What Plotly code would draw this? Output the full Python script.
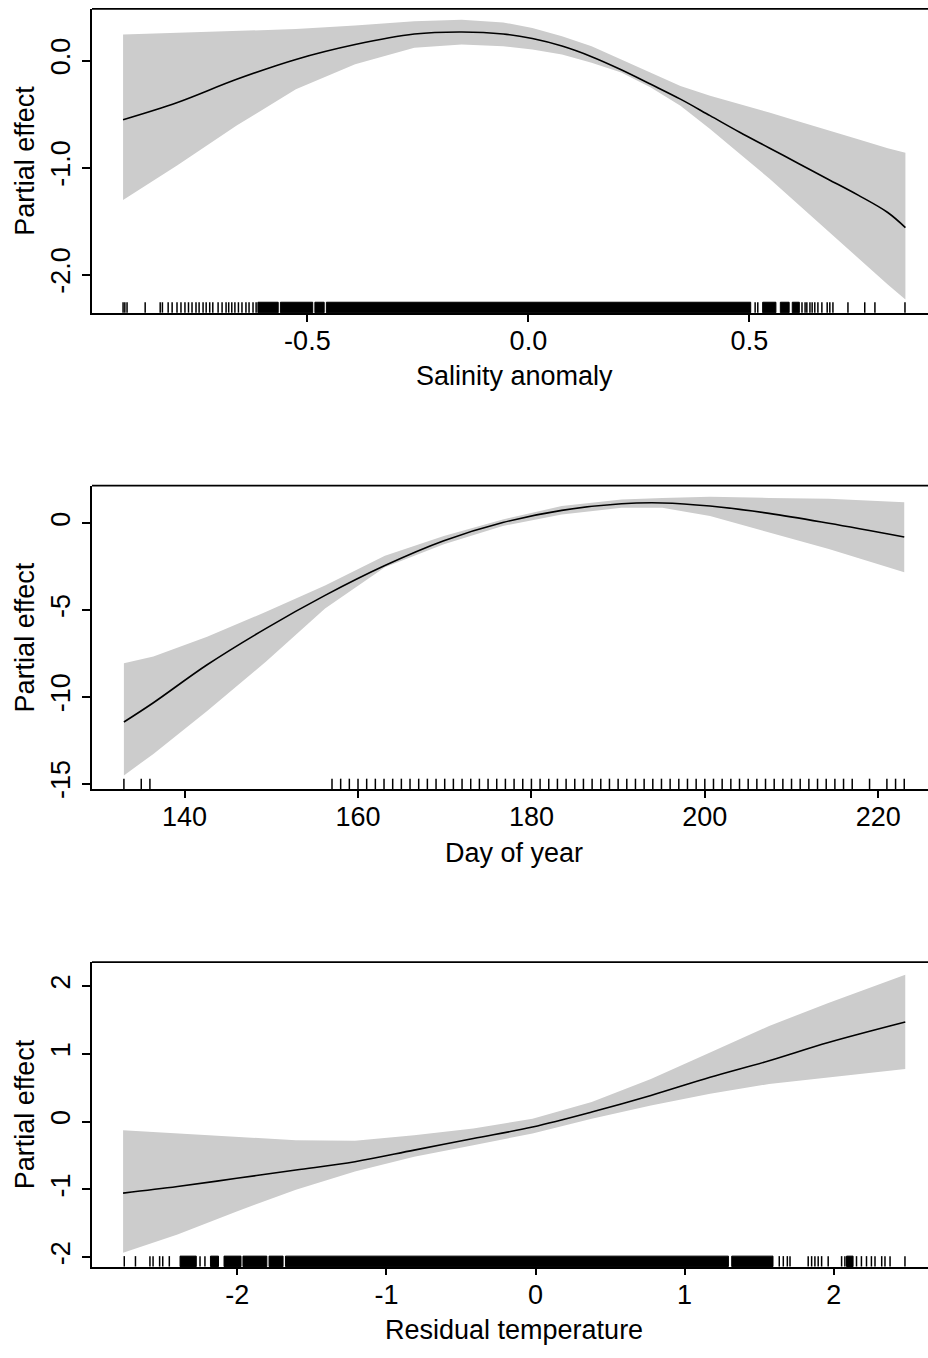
import plotly.graph_objects as go

# ---------------- data ----------------
# Panel 1: Salinity anomaly
sal_x = [-0.917, -0.794, -0.660, -0.526, -0.392, -0.258, -0.151, -0.057, 0.009, 0.076, 0.143,
         0.210, 0.277, 0.344, 0.411, 0.478, 0.545, 0.612, 0.679, 0.746, 0.813, 0.853]
sal_fit = [-0.553, -0.392, -0.176, 0.010, 0.149, 0.248, 0.267, 0.248, 0.205, 0.135, 0.036,
           -0.086, -0.222, -0.361, -0.515, -0.670, -0.817, -0.964, -1.111, -1.258, -1.420, -1.561]
sal_upper = [0.242, 0.258, 0.273, 0.294, 0.328, 0.366, 0.381, 0.356, 0.304, 0.226, 0.134,
             0.010, -0.113, -0.237, -0.330, -0.405, -0.485, -0.570, -0.650, -0.735, -0.820, -0.862]
sal_lower = [-1.304, -0.979, -0.608, -0.268, -0.036, 0.119, 0.149, 0.134, 0.103, 0.056, -0.021,
             -0.113, -0.253, -0.423, -0.639, -0.870, -1.103, -1.350, -1.598, -1.845, -2.093, -2.232]
sal_rug = [-0.917, -0.913, -0.908, -0.867, -0.833, -0.828, -0.815, -0.806, -0.795, -0.786, -0.777,
           -0.769, -0.761, -0.752, -0.745, -0.736, -0.729, -0.721, -0.714, -0.702, -0.693, -0.684,
           -0.678, -0.671, -0.664, -0.656, -0.648, -0.639, -0.632, -0.623, -0.616,
           0.513, 0.519, 0.619, 0.626, 0.630, 0.637, 0.642, 0.648, 0.655, 0.664, 0.676, 0.682,
           0.689, 0.723, 0.761, 0.784, 0.852]
sal_rug_dense = [(-0.612, -0.566), (-0.561, -0.488), (-0.483, -0.462), (-0.457, 0.503),
                 (0.530, 0.560), (0.570, 0.590), (0.597, 0.613)]
sal_xticks = [-0.5, 0.0, 0.5]
sal_xticktext = ["-0.5", "0.0", "0.5"]
sal_yticks = [-2, -1, 0]
sal_yticktext = ["-2.0", "-1.0", "0.0"]

# Panel 2: Day of year
day_x = [133, 136.4, 142.6, 149.4, 156.2, 163.1, 169.9, 176.7, 183.5, 190.4, 195.1, 200.6, 207.4, 214.3, 223]
day_fit = [-11.45, -10.34, -8.15, -6.05, -4.15, -2.43, -1.00, 0.05, 0.75, 1.13, 1.18, 1.00, 0.58, 0.01, -0.78]
day_upper = [-8.06, -7.68, -6.53, -5.10, -3.58, -1.87, -0.72, 0.23, 1.00, 1.38, 1.47, 1.53, 1.47, 1.42, 1.22]
day_lower = [-14.53, -13.29, -10.82, -7.96, -4.91, -2.53, -1.20, -0.15, 0.52, 0.90, 0.90, 0.43, -0.53, -1.48, -2.82]
day_rug = [133, 135, 136,
           157, 158, 159, 160, 161, 162, 163, 164, 165, 166, 167, 168, 169, 170, 171, 172, 173,
           174, 175, 176, 177, 178, 179, 180, 181, 182, 183, 184, 185, 186, 187, 188, 189, 190,
           191, 192, 193, 194, 195, 196, 197, 198, 199, 200, 201, 202, 203, 204, 205, 206, 207,
           208, 209, 210, 211, 212, 213, 214, 215, 216, 217,
           219, 221, 222, 223]
day_rug_dense = []
day_xticks = [140, 160, 180, 200, 220]
day_xticktext = ["140", "160", "180", "200", "220"]
day_yticks = [-15, -10, -5, 0]
day_yticktext = ["-15", "-10", "-5", "0"]

# Panel 3: Residual temperature
tmp_x = [-2.766, -2.401, -2.004, -1.607, -1.211, -0.814, -0.417, -0.020, 0.377, 0.774, 1.171, 1.567, 1.964, 2.480]
tmp_fit = [-1.055, -0.958, -0.836, -0.714, -0.591, -0.421, -0.250, -0.080, 0.141, 0.385, 0.653, 0.897, 1.165, 1.467]
tmp_upper = [-0.128, -0.177, -0.225, -0.274, -0.284, -0.202, -0.103, 0.042, 0.287, 0.628, 1.019, 1.409, 1.750, 2.165]
tmp_lower = [-1.933, -1.665, -1.324, -1.006, -0.737, -0.518, -0.347, -0.177, 0.042, 0.238, 0.409, 0.555, 0.653, 0.775]
tmp_rug = [-2.758, -2.683, -2.586, -2.565, -2.521, -2.500, -2.456, -2.250, -2.217,
           1.635, 1.662, 1.689, 1.707, 1.829, 1.852, 1.874, 1.896, 1.919, 1.963, 2.053, 2.075,
           2.153, 2.186, 2.220, 2.253, 2.277, 2.322, 2.344, 2.378, 2.478]
tmp_rug_dense = [(-2.384, -2.275), (-2.180, -2.126), (-2.089, -1.975), (-1.962, -1.802),
                 (-1.787, -1.693), (-1.677, 1.294), (1.316, 1.593), (2.086, 2.130)]
tmp_xticks = [-2, -1, 0, 1, 2]
tmp_xticktext = ["-2", "-1", "0", "1", "2"]
tmp_yticks = [-2, -1, 0, 1, 2]
tmp_yticktext = ["-2", "-1", "0", "1", "2"]

x_titles = ["Salinity anomaly", "Day of year", "Residual temperature"]
y_title = "Partial effect"

# ---------------- layout geometry (pixels from top-left) ----------------
W, H = 928, 1350
PLOT_LEFT = 92
panels_px = [(9, 315), (489.3, 795), (969.3, 1276)]  # top, bottom
x_ranges = [[-0.9873, 0.9041], [129.32, 225.74], [-2.9745, 2.6325]]
y_ranges = [[-2.356, 0.482], [-15.32, 2.175], [-2.137, 2.351]]

FONT = "Liberation Sans, Arial, sans-serif"
BAND = "#cccccc"
TICK_SIZE = 27
TITLE_SIZE = 27

panels = [
    dict(x=sal_x, fit=sal_fit, up=sal_upper, lo=sal_lower, rug=sal_rug, dense=sal_rug_dense,
         xt=sal_xticks, xtt=sal_xticktext, yt=sal_yticks, ytt=sal_yticktext),
    dict(x=day_x, fit=day_fit, up=day_upper, lo=day_lower, rug=day_rug, dense=day_rug_dense,
         xt=day_xticks, xtt=day_xticktext, yt=day_yticks, ytt=day_yticktext),
    dict(x=tmp_x, fit=tmp_fit, up=tmp_upper, lo=tmp_lower, rug=tmp_rug, dense=tmp_rug_dense,
         xt=tmp_xticks, xtt=tmp_xticktext, yt=tmp_yticks, ytt=tmp_yticktext),
]

fig = go.Figure()
shapes = []
annotations = []

for i, p in enumerate(panels):
    n = i + 1
    xa = "x" if n == 1 else f"x{n}"
    ya = "y" if n == 1 else f"y{n}"
    top, bot = panels_px[i]
    rug_frac = 10.5 / (bot - top)
    # confidence band
    fig.add_trace(go.Scatter(
        x=list(p["x"]) + list(p["x"])[::-1],
        y=list(p["up"]) + list(p["lo"])[::-1],
        fill="toself", fillcolor=BAND, line=dict(width=0, color=BAND),
        mode="lines", hoverinfo="skip", showlegend=False, xaxis=xa, yaxis=ya))
    # fitted smooth
    fig.add_trace(go.Scatter(
        x=p["x"], y=p["fit"], mode="lines", line_shape="spline",
        line=dict(color="black", width=1.6), showlegend=False, xaxis=xa, yaxis=ya))

    # rug ticks
    for v in p["rug"]:
        shapes.append(dict(type="line", xref=xa, yref=f"{ya} domain",
                           x0=v, x1=v, y0=0, y1=rug_frac,
                           line=dict(color="black", width=1.5)))
    for a, b in p["dense"]:
        shapes.append(dict(type="rect", xref=xa, yref=f"{ya} domain",
                           x0=a, x1=b, y0=0, y1=rug_frac,
                           line=dict(color="black", width=1), fillcolor="black"))
    # top border of box
    shapes.append(dict(type="line", xref=f"{xa} domain", yref=f"{ya} domain",
                       x0=0, x1=1, y0=1, y1=1, line=dict(color="black", width=1.8)))

    dom_y = [1 - bot / H, 1 - top / H]
    axkey = "xaxis" if n == 1 else f"xaxis{n}"
    aykey = "yaxis" if n == 1 else f"yaxis{n}"
    fig.update_layout(**{
        axkey: dict(domain=[PLOT_LEFT / W, 1], anchor=ya, range=x_ranges[i],
                    showgrid=False, zeroline=False, showline=True, linecolor="black",
                    linewidth=1.8, ticks="outside", ticklen=7, tickwidth=1.5,
                    tickcolor="black", tickvals=p["xt"], ticktext=p["xtt"],
                    ticklabelstandoff=-4,
                    tickfont=dict(family=FONT, size=TICK_SIZE, color="black")),
        aykey: dict(domain=dom_y, anchor=xa, range=y_ranges[i],
                    showgrid=False, zeroline=False, showline=True, linecolor="black",
                    linewidth=1.8, ticks="outside", ticklen=8, tickwidth=1.5,
                    tickcolor="black", tickvals=p["yt"], ticktext=p["ytt"], tickangle=-90,
                    ticklabelstandoff=1,
                    tickfont=dict(family=FONT, size=TICK_SIZE, color="black")),
    })

    # axis titles
    annotations.append(dict(text=x_titles[i], xref="paper", yref="paper",
                             x=514 / W, y=1 - (bot + 64) / H, xanchor="center", yanchor="middle",
                             showarrow=False, font=dict(family=FONT, size=TITLE_SIZE, color="black")))
    annotations.append(dict(text=y_title, xref="paper", yref="paper",
                             x=25 / W, y=1 - ((top + bot) / 2) / H, xanchor="center", yanchor="middle",
                             textangle=-90, showarrow=False,
                             font=dict(family=FONT, size=TITLE_SIZE, color="black")))

fig.update_layout(width=W, height=H, margin=dict(l=0, r=0, t=0, b=0),
                  plot_bgcolor="white", paper_bgcolor="white",
                  shapes=shapes, annotations=annotations, showlegend=False)

fig.write_html("out.html")
